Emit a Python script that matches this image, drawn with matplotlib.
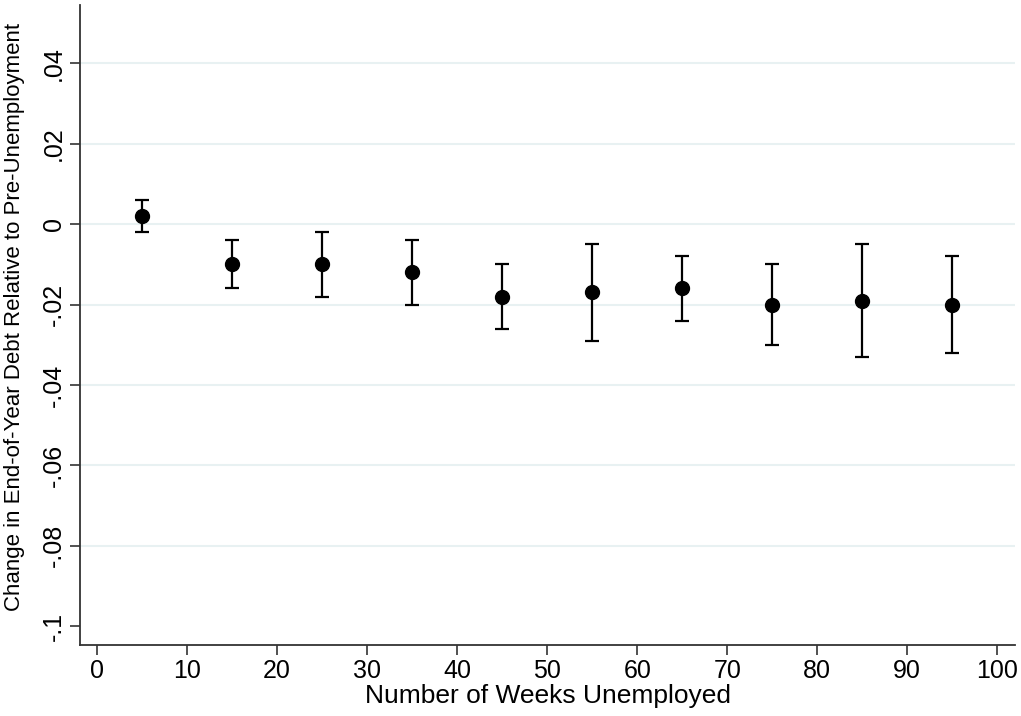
"""
Change in end-of-year debt by weeks unemployed, with confidence intervals.
"""

import matplotlib

matplotlib.use("Agg")
import matplotlib.pyplot as plt
import matplotlib.ticker as mtick

weeks = [5, 15, 25, 35, 45, 55, 65, 75, 85, 95]
estimate = [0.002, -0.010, -0.010, -0.012, -0.018, -0.017, -0.016, -0.020, -0.019, -0.020]
ci_upper = [0.006, -0.004, -0.002, -0.004, -0.010, -0.005, -0.008, -0.010, -0.005, -0.008]
ci_lower = [-0.002, -0.016, -0.018, -0.020, -0.026, -0.029, -0.024, -0.030, -0.033, -0.032]

x_ticks = list(range(0, 101, 10))
y_ticks = [-0.1, -0.08, -0.06, -0.04, -0.02, 0, 0.02, 0.04]
y_grid = [-0.08, -0.06, -0.04, -0.02, 0, 0.02, 0.04]


def stata_fmt(v, pos=None):
    s = f"{v:.2f}".rstrip("0").rstrip(".")
    if s in ("-0", ""):
        s = "0"
    return s.replace("0.", ".")


def main():
    plt.rcParams["font.family"] = ["Liberation Sans", "DejaVu Sans"]

    fig = plt.figure(figsize=(10.21, 7.16), dpi=100)
    ax = fig.add_axes([0.0784, 0.099, 0.916, 0.894])

    for g in y_grid:
        ax.axhline(g, color="#e8f1f2", lw=1.5, zorder=0)

    err = [
        [e - lo for e, lo in zip(estimate, ci_lower)],
        [hi - e for e, hi in zip(estimate, ci_upper)],
    ]
    ax.errorbar(
        weeks, estimate, yerr=err, fmt="o", color="black", ms=10,
        ecolor="black", elinewidth=1.6, capsize=4.8, capthick=1.6, zorder=3,
    )

    ax.set_xlim(-1.9, 102)
    ax.set_ylim(-0.1047, 0.0545)
    ax.set_xticks(x_ticks)
    ax.set_yticks(y_ticks)
    ax.yaxis.set_major_formatter(mtick.FuncFormatter(stata_fmt))
    ax.tick_params(axis="x", labelsize=18, length=7, width=1.2, color="#333333", pad=3)
    ax.tick_params(axis="y", labelsize=18, length=7, width=1.2, color="#333333", pad=3)
    for lab in ax.get_yticklabels():
        lab.set_rotation(90)
        lab.set_va("center")

    for side in ("top", "right"):
        ax.spines[side].set_visible(False)
    for side in ("left", "bottom"):
        ax.spines[side].set_color("#333333")
        ax.spines[side].set_linewidth(1.3)

    ax.set_xlabel("Number of Weeks Unemployed", fontsize=19, labelpad=1)
    ax.set_ylabel(
        "Change in End-of-Year Debt Relative to Pre-Unemployment",
        fontsize=16,
    )
    ax.yaxis.set_label_coords(-0.059, 0.512)

    fig.savefig("out.png", dpi=100)


if __name__ == "__main__":
    main()
